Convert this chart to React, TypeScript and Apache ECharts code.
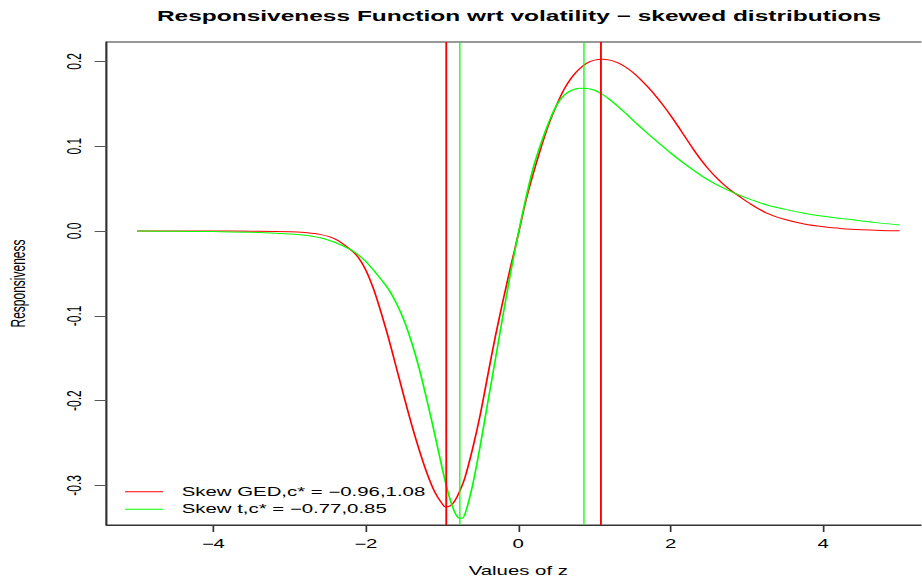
import React, { useEffect, useRef } from "react";
import * as echarts from "echarts";

// The reference is an R plot that was stretched horizontally; we draw at a
// narrower internal width and stretch the whole SVG with a CSS scaleX.
const S = 1.7;
const W = 922;
const H = 583;
const IW = W / S;

const FONT = "Liberation Sans, Arial, Helvetica, sans-serif";

const TITLE = "Responsiveness Function wrt volatility \u2212 skewed distributions";
const X_NAME = "Values of z";
const Y_NAME = "Responsiveness";

const xTicks = [-4, -2, 0, 2, 4];
const yTicks = [-0.3, -0.2, -0.1, 0.0, 0.1, 0.2];

const zValues = [
  -5, -4.5, -4, -3.5, -3, -2.8, -2.6, -2.4, -2.2,
  -2.1, -2.0, -1.9, -1.8, -1.7, -1.6, -1.5, -1.4, -1.3, -1.2, -1.1, -1.0,
  -0.95, -0.9, -0.85, -0.8, -0.75, -0.7,
  -0.6, -0.5, -0.4, -0.3, -0.2, -0.1, 0, 0.1, 0.2, 0.3, 0.4, 0.5, 0.6, 0.7, 0.8, 0.9,
  1.0, 1.1, 1.2, 1.3, 1.4, 1.5, 1.6, 1.7, 1.8, 1.9, 2.0, 2.1, 2.2, 2.3, 2.4, 2.5, 2.6, 2.7,
  2.8, 2.9, 3.0,
  3.25, 3.5, 3.75, 4.0, 4.25, 4.5, 4.75, 5.0,
];

const skewGED = [
  0, 0, 0, -0.0002, -0.0008, -0.0018, -0.004, -0.0095, -0.022,
  -0.031, -0.046, -0.068, -0.096, -0.127, -0.161, -0.195, -0.228, -0.258, -0.285, -0.307, -0.3215,
  -0.3255, -0.3245, -0.3205, -0.313, -0.303, -0.291,
  -0.257, -0.217, -0.17, -0.124, -0.082, -0.042, -0.004, 0.036, 0.069, 0.099, 0.126, 0.148,
  0.167, 0.181, 0.191, 0.198,
  0.2015, 0.2025, 0.2015, 0.1985, 0.1937, 0.1872, 0.1791, 0.1698, 0.1595, 0.1482, 0.136, 0.1229,
  0.1093, 0.0959, 0.0835, 0.0724, 0.0627, 0.0543, 0.0471, 0.0408, 0.0345,
  0.0215, 0.0135, 0.0082, 0.0049, 0.0028, 0.0015, 0.0007, 0.0003,
];

const skewT = [
  0, -0.0003, -0.0007, -0.0015, -0.0035, -0.005, -0.008, -0.0135, -0.022,
  -0.028, -0.036, -0.046, -0.057, -0.069, -0.085, -0.105, -0.131, -0.162, -0.199, -0.238, -0.279,
  -0.298, -0.315, -0.328, -0.337, -0.339, -0.334,
  -0.3, -0.2535, -0.202, -0.151, -0.099, -0.049, -0.003, 0.039, 0.076, 0.104, 0.128, 0.148,
  0.16, 0.166, 0.1685, 0.168,
  0.166, 0.1613, 0.155, 0.1475, 0.1394, 0.131, 0.1228, 0.1148, 0.107, 0.0993, 0.0919, 0.0848,
  0.078, 0.0716, 0.0654, 0.0597, 0.0547, 0.0502, 0.0461, 0.0423, 0.0388,
  0.031, 0.0255, 0.021, 0.0175, 0.0146, 0.0118, 0.0093, 0.0071,
];

const gedCuts = [-0.96, 1.08];
const tCuts = [-0.77, 0.85];

const seriesNames = ["Skew GED,c* = \u22120.96,1.08", "Skew t,c* = \u22120.77,0.85"];
const seriesColors = ["#ff0000", "#00ff00"];

const X_MIN = -5.4;
const X_MAX = 5.4;
const Y_MIN = -0.3467;
const Y_MAX = 0.2229;

export default function App() {
  const ref = useRef<HTMLDivElement>(null);

  useEffect(() => {
    if (!ref.current) return;
    const chart = echarts.init(ref.current, null, { renderer: "svg" });

    const gridLeft = 106.55 / S;
    const gridWidth = 823.5 / S;

    const legendY = [491.7, 509.3];

    const option: any = {
      animation: false,
      backgroundColor: "#ffffff",
      title: {
        text: TITLE,
        left: 510.5 / S,
        top: 4,
        textAlign: "center",
        textStyle: { fontFamily: FONT, fontSize: 14.4, fontWeight: "bold", color: "#000" },
      },
      grid: {
        left: gridLeft,
        top: 42,
        width: gridWidth,
        height: 483,
        outerBoundsMode: "none",
        containLabel: false,
        show: true,
        borderColor: "#333",
        borderWidth: 1,
        backgroundColor: "transparent",
      },
      xAxis: {
        type: "value",
        min: X_MIN,
        max: X_MAX,
        name: X_NAME,
        nameLocation: "middle",
        nameGap: 40,
        nameTextStyle: { fontFamily: FONT, fontSize: 12, color: "#000" },
        axisLine: { show: true, onZero: false, lineStyle: { color: "#333", width: 1 } },
        axisTick: { show: true, length: 7, customValues: xTicks, lineStyle: { color: "#333" } },
        axisLabel: {
          customValues: xTicks,
          margin: 13,
          fontFamily: FONT,
          fontSize: 12,
          color: "#000",
          formatter: (v: number) => (v < 0 ? "\u2212" + Math.abs(v) : String(v)),
        },
        splitLine: { show: false },
      },
      yAxis: {
        type: "value",
        min: Y_MIN,
        max: Y_MAX,
        name: Y_NAME,
        nameLocation: "middle",
        nameGap: 46,
        nameRotate: 90,
        nameTextStyle: { fontFamily: FONT, fontSize: 12, color: "#000" },
        axisLine: { show: true, onZero: false, lineStyle: { color: "#333", width: 1 } },
        axisTick: { show: true, length: 7, customValues: yTicks, lineStyle: { color: "#555" } },
        axisLabel: {
          customValues: yTicks,
          rotate: 90,
          margin: 13,
          fontFamily: FONT,
          fontSize: 12,
          color: "#000",
          formatter: (v: number) => v.toFixed(1),
        },
        splitLine: { show: false },
      },
      series: [
        {
          name: seriesNames[0],
          type: "line",
          data: zValues.map((z, i) => [z, skewGED[i]]),
          showSymbol: false,
          symbol: "none",
          smooth: 0.35,
          lineStyle: { color: seriesColors[0], width: 1 },
          itemStyle: { color: seriesColors[0] },
          markLine: {
            silent: true,
            symbol: ["none", "none"],
            label: { show: false },
            lineStyle: { color: seriesColors[0], width: 1.1, type: "solid" },
            data: gedCuts.map((c) => ({ xAxis: c })),
          },
          z: 3,
        },
        {
          name: seriesNames[1],
          type: "line",
          data: zValues.map((z, i) => [z, skewT[i]]),
          showSymbol: false,
          symbol: "none",
          smooth: 0.35,
          lineStyle: { color: seriesColors[1], width: 1 },
          itemStyle: { color: seriesColors[1] },
          markLine: {
            silent: true,
            symbol: ["none", "none"],
            label: { show: false },
            lineStyle: { color: seriesColors[1], width: 0.75, type: "solid" },
            data: tCuts.map((c) => ({ xAxis: c })),
          },
          z: 4,
        },
      ],
      graphic: seriesNames.flatMap((name, i) => [
        {
          type: "line",
          shape: { x1: 125 / S, y1: legendY[i], x2: 163 / S, y2: legendY[i] },
          style: { stroke: seriesColors[i], lineWidth: 1 },
          silent: true,
        },
        {
          type: "text",
          x: 181.7 / S,
          y: legendY[i],
          style: {
            text: name,
            fontFamily: FONT,
            fontSize: 12,
            fill: "#000",
            textAlign: "left",
            textVerticalAlign: "middle",
          },
          silent: true,
        },
      ]),
    };

    chart.setOption(option);
    return () => chart.dispose();
  }, []);

  return (
    <div
      style={{
        position: "fixed",
        left: 0,
        top: 0,
        width: W,
        height: H,
        overflow: "hidden",
        background: "#fff",
      }}
    >
      <div
        ref={ref}
        style={{
          width: IW,
          height: H,
          transform: `scaleX(${S})`,
          transformOrigin: "0 0",
        }}
      />
    </div>
  );
}
